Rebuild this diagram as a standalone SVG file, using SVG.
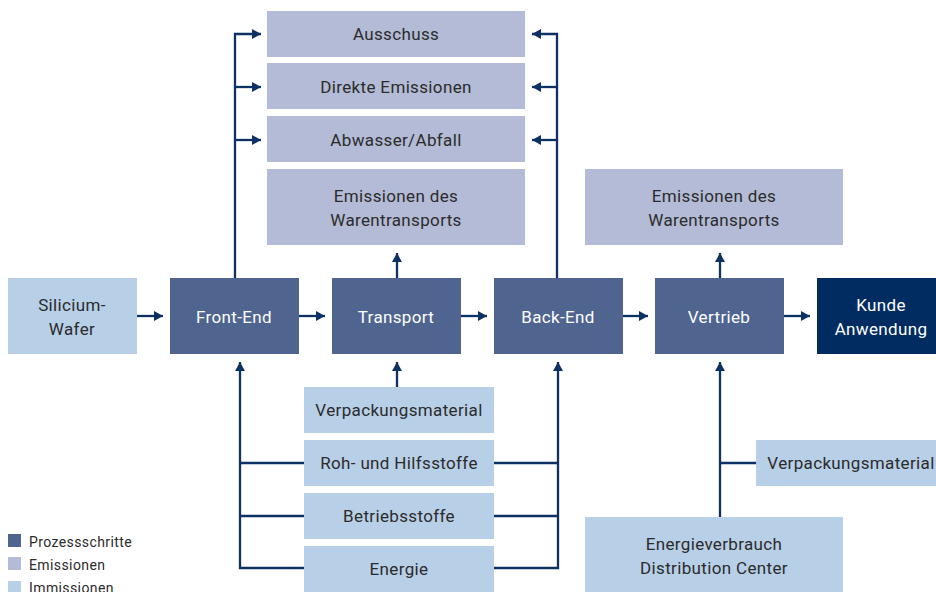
<svg xmlns="http://www.w3.org/2000/svg" width="936" height="592" viewBox="0 0 936 592">
<style>
.p{fill:#4f6590}
.e{fill:#b3bbd6}
.i{fill:#b8cfe8}
.k{fill:#002c61}
text{font-family:Roboto,"Open Sans",sans-serif;font-size:17px;text-anchor:middle;letter-spacing:0.35px}
.tw{fill:#ffffff}
.td{fill:#2b2b2b}
.lg{font-size:14px;text-anchor:start;fill:#2b2b2b;letter-spacing:0.4px}
.c{fill:none;stroke:#0d3163;stroke-width:2.3}
.ca{fill:none;stroke:#0d3163;stroke-width:2.3;marker-end:url(#ah)}
</style>
<defs>
<marker id="ah" markerUnits="userSpaceOnUse" markerWidth="10" markerHeight="10" refX="9" refY="5" orient="auto">
<path d="M0,0 L9,5 L0,10 z" fill="#0d3163"/>
</marker>
</defs>
<g id="connectors">
<path class="ca" d="M137,316 H163"/>
<path class="ca" d="M299,316 H325"/>
<path class="ca" d="M461,316 H487"/>
<path class="ca" d="M623,316 H648"/>
<path class="ca" d="M784,316 H810"/>
<path class="ca" d="M235,278 V34 H261"/>
<path class="ca" d="M235,87 H261"/>
<path class="ca" d="M235,140 H261"/>
<path class="ca" d="M557,278 V34 H532"/>
<path class="ca" d="M557,87 H532"/>
<path class="ca" d="M557,140 H532"/>
<path class="ca" d="M397,278 V253"/>
<path class="ca" d="M720,278 V253"/>
<path class="ca" d="M397,387 V362"/>
<path class="ca" d="M304,568 H240 V362"/>
<path class="c" d="M304,463 H240"/>
<path class="c" d="M304,516 H240"/>
<path class="ca" d="M494,568 H558 V362"/>
<path class="c" d="M494,463 H558"/>
<path class="c" d="M494,516 H558"/>
<path class="ca" d="M720,517 V362"/>
<path class="c" d="M756,463 H720"/>
</g>
<g id="ausschuss"><rect class="e" x="267" y="11" width="258" height="46"/><text class="td" x="396" y="40">Ausschuss</text></g>
<g id="direkte"><rect class="e" x="267" y="63" width="258" height="46"/><text class="td" x="396" y="93">Direkte Emissionen</text></g>
<g id="abwasser"><rect class="e" x="267" y="116" width="258" height="46"/><text class="td" x="396" y="146">Abwasser/Abfall</text></g>
<g id="emis1"><rect class="e" x="267" y="169" width="258" height="76"/><text class="td" x="396" y="202">Emissionen des</text><text class="td" x="396" y="226">Warentransports</text></g>
<g id="emis2"><rect class="e" x="585" y="169" width="258" height="76"/><text class="td" x="714" y="202">Emissionen des</text><text class="td" x="714" y="226">Warentransports</text></g>
<g id="wafer"><rect class="i" x="8" y="278" width="129" height="76"/><text class="td" x="72" y="311">Silicium-</text><text class="td" x="72" y="335">Wafer</text></g>
<g id="frontend"><rect class="p" x="170" y="278" width="129" height="76"/><text class="tw" x="234" y="323">Front-End</text></g>
<g id="transport"><rect class="p" x="332" y="278" width="129" height="76"/><text class="tw" x="396" y="323">Transport</text></g>
<g id="backend"><rect class="p" x="494" y="278" width="129" height="76"/><text class="tw" x="558" y="323">Back-End</text></g>
<g id="vertrieb"><rect class="p" x="655" y="278" width="129" height="76"/><text class="tw" x="719" y="323">Vertrieb</text></g>
<g id="kunde"><rect class="k" x="817" y="278" width="119" height="76"/><text class="tw" x="881" y="311">Kunde</text><text class="tw" x="881" y="335">Anwendung</text></g>
<g id="verpackung1"><rect class="i" x="304" y="387" width="190" height="46"/><text class="td" x="399" y="416">Verpackungsmaterial</text></g>
<g id="roh"><rect class="i" x="304" y="440" width="190" height="46"/><text class="td" x="399" y="469">Roh- und Hilfsstoffe</text></g>
<g id="betrieb"><rect class="i" x="304" y="493" width="190" height="46"/><text class="td" x="399" y="522">Betriebsstoffe</text></g>
<g id="energie"><rect class="i" x="304" y="546" width="190" height="46"/><text class="td" x="399" y="575">Energie</text></g>
<g id="verpackung2"><rect class="i" x="756" y="440" width="180" height="46"/><text class="td" x="851" y="469">Verpackungsmaterial</text></g>
<g id="energieverbrauch"><rect class="i" x="585" y="517" width="258" height="75"/><text class="td" x="714" y="550">Energieverbrauch</text><text class="td" x="714" y="574">Distribution Center</text></g>
<g id="legend">
<rect class="p" x="8" y="534" width="13" height="13"/><text class="lg" x="29" y="547">Prozessschritte</text>
<rect class="e" x="8" y="557" width="13" height="13"/><text class="lg" x="29" y="570">Emissionen</text>
<rect class="i" x="8" y="581" width="13" height="13"/><text class="lg" x="29" y="593">Immissionen</text>
</g>
</svg>
